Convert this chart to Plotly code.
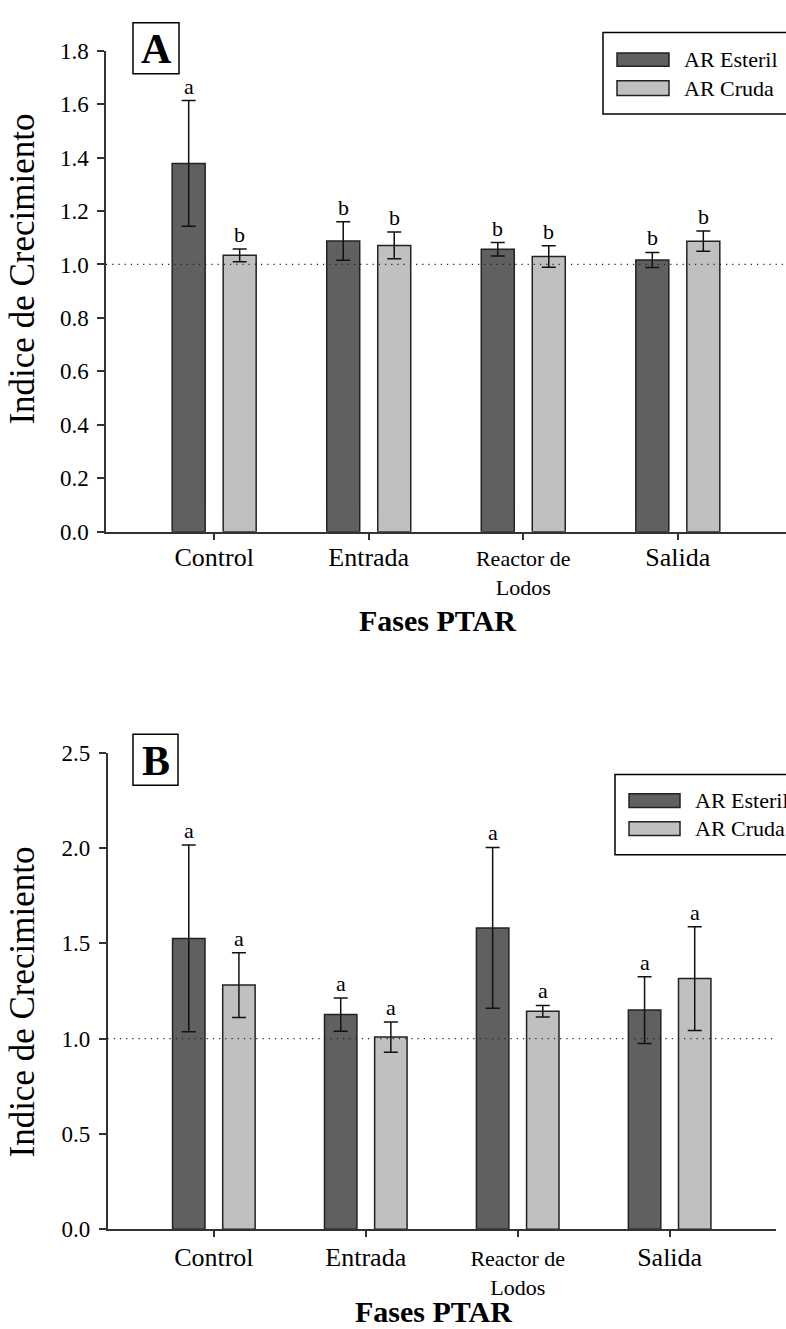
import plotly.graph_objects as go

# ---------------- data ----------------
categories = ["Control", "Entrada", "Reactor de Lodos", "Salida"]
tick_labels = ["<span style='font-size:26px'>Control</span>",
               "<span style='font-size:26px'>Entrada</span>",
               "Reactor de<br>Lodos",
               "<span style='font-size:26px'>Salida</span>"]
series_names = ["AR Esteril", "AR Cruda"]

# Panel A
a_esteril = [1.378, 1.088, 1.057, 1.017]
a_esteril_err = [0.235, 0.072, 0.025, 0.028]
a_cruda = [1.034, 1.071, 1.030, 1.087]
a_cruda_err = [0.024, 0.050, 0.040, 0.038]
a_esteril_letters = ["a", "b", "b", "b"]
a_cruda_letters = ["b", "b", "b", "b"]

# Panel B
b_esteril = [1.526, 1.126, 1.581, 1.150]
b_esteril_err = [0.490, 0.087, 0.422, 0.175]
b_cruda = [1.281, 1.008, 1.144, 1.315]
b_cruda_err = [0.170, 0.079, 0.030, 0.272]
b_esteril_letters = ["a", "a", "a", "a"]
b_cruda_letters = ["a", "a", "a", "a"]

# ---------------- style ----------------
W, H = 786, 1329
FONT = "Liberation Serif"
DARK = "#606060"
LIGHT = "#c0c0c0"
EDGE = "#222222"
AXC = "#333333"
BARGAP = 0.34
BARGROUPGAP = 0.353
slot = (1 - BARGAP) / 2
offsets = [-slot / 2, slot / 2]


def px(x):
    return x / W


def py(y):
    return 1 - y / H


fig = go.Figure()

panels = [
    dict(xa="x", ya="y", data=[(a_esteril, a_esteril_err, a_esteril_letters),
                                (a_cruda, a_cruda_err, a_cruda_letters)]),
    dict(xa="x2", ya="y2", data=[(b_esteril, b_esteril_err, b_esteril_letters),
                                  (b_cruda, b_cruda_err, b_cruda_letters)]),
]
colors = [DARK, LIGHT]

annotations = []
for p in panels:
    for k, (vals, errs, letters) in enumerate(p["data"]):
        fig.add_trace(go.Bar(
            x=categories, y=vals, name=series_names[k],
            xaxis=p["xa"], yaxis=p["ya"],
            marker=dict(color=colors[k], line=dict(color=EDGE, width=1.5)),
            error_y=dict(type="data", array=errs, visible=True,
                         color="#111111", thickness=1.5, width=7),
            showlegend=False,
        ))
        for i, (v, e, L) in enumerate(zip(vals, errs, letters)):
            annotations.append(dict(
                x=i + offsets[k], y=v + e, xref=p["xa"], yref=p["ya"],
                text=L, showarrow=False, yanchor="bottom", yshift=0,
                font=dict(family=FONT, size=22, color="black")))

axis_common = dict(showline=True, linecolor=AXC, linewidth=1.5, ticks="outside",
                   tickcolor=AXC, tickwidth=1.5, showgrid=False, zeroline=False)
yfont = dict(family=FONT, size=23, color="black")
xfont = dict(family=FONT, size=22, color="black")

fig.update_layout(
    width=W, height=H, margin=dict(l=0, r=0, t=0, b=0),
    paper_bgcolor="white", plot_bgcolor="white",
    barmode="group", bargap=BARGAP, bargroupgap=BARGROUPGAP,
    showlegend=False,
    xaxis=dict(**axis_common, tickfont=xfont,
               domain=[px(106), 1], range=[-0.7, 3.7], anchor="y",
               tickmode="array", tickvals=categories, ticktext=tick_labels, ticklen=6),
    yaxis=dict(**axis_common, tickfont=yfont, domain=[py(529.8), py(39.3)], range=[0, 1.8],
               dtick=0.2, tickformat=".1f", anchor="x", ticklen=7, ticklabelstandoff=4),
    xaxis2=dict(**axis_common, tickfont=xfont,
                domain=[px(107.5), px(776)], range=[-0.7, 3.7], anchor="y2",
                tickmode="array", tickvals=categories, ticktext=tick_labels, ticklen=6,
                ticklabelstandoff=3),
    yaxis2=dict(**axis_common, tickfont=yfont, domain=[py(1240.5), py(755)], range=[0, 2.5],
                dtick=0.5, tickformat=".1f", anchor="x2", ticklen=7, ticklabelstandoff=4),
)

shapes = []
# reference line at 1.0
for xa, ya in [("x", "y"), ("x2", "y2")]:
    shapes.append(dict(type="line", xref=f"{xa} domain", yref=ya, x0=0, x1=1, y0=1, y1=1,
                       line=dict(color="#222222", width=1.2, dash="1.2px,5px"), layer="above"))

# panel labels
for label, (x0, y0, x1, y1) in [("A", (133, 11, 179, 63)), ("B", (133, 736, 178, 788))]:
    shapes.append(dict(type="rect", xref="paper", yref="paper",
                       x0=px(x0), x1=px(x1), y0=py(y1), y1=py(y0),
                       line=dict(color="black", width=1.5), fillcolor="white"))
    annotations.append(dict(x=px((x0 + x1) / 2), y=py((y0 + y1) / 2 + 1), xref="paper", yref="paper",
                            text=f"<b>{label}</b>", showarrow=False,
                            xanchor="center", yanchor="middle",
                            font=dict(family=FONT, size=42, color="black")))

# manual legends
legends = [
    dict(box=(603, 21, 800, 104), sw_x=(617, 669), sw_y=[(41.7, 55.3), (70, 85)], tx=682),
    dict(box=(615, 777, 800, 859), sw_x=(629, 680), sw_y=[(796.7, 810.7), (825.3, 839.3)], tx=693),
]
for lg in legends:
    bx0, by0, bx1, by1 = lg["box"]
    shapes.append(dict(type="rect", xref="paper", yref="paper",
                       x0=px(bx0), x1=px(bx1), y0=py(by1), y1=py(by0),
                       line=dict(color="black", width=1.5), fillcolor="white"))
    for k, (sy0, sy1) in enumerate(lg["sw_y"]):
        shapes.append(dict(type="rect", xref="paper", yref="paper",
                           x0=px(lg["sw_x"][0]), x1=px(lg["sw_x"][1]),
                           y0=py(sy1), y1=py(sy0),
                           line=dict(color=EDGE, width=1.5), fillcolor=colors[k]))
        annotations.append(dict(x=px(lg["tx"]), y=py((sy0 + sy1) / 2), xref="paper", yref="paper",
                                text=series_names[k], showarrow=False,
                                xanchor="left", yanchor="middle",
                                font=dict(family=FONT, size=22, color="black")))

# axis titles
for (xc, yc) in [(23, 262.5), (23, 1009.5)]:
    annotations.append(dict(x=px(xc), y=py(yc), xref="paper", yref="paper",
                            text="Indice de Crecimiento", textangle=-90, showarrow=False,
                            xanchor="center", yanchor="middle",
                            font=dict(family=FONT, size=35, color="black")))
for (xc, yb) in [(437.5, 620), (433, 1324)]:
    annotations.append(dict(x=px(xc), y=py(yb), xref="paper", yref="paper",
                            text="<b>Fases PTAR</b>", showarrow=False,
                            xanchor="center", yanchor="middle",
                            font=dict(family=FONT, size=30, color="black")))

fig.update_layout(shapes=shapes, annotations=annotations)
fig.write_html("out.html")
